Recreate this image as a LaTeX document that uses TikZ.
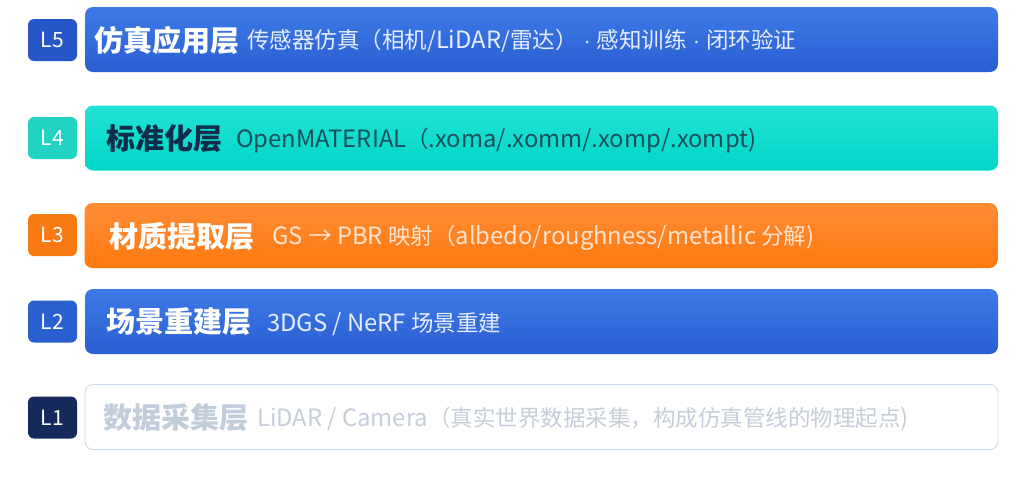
\documentclass[tikz,border=0pt]{standalone}
\usepackage{fontspec}
\setmainfont{Noto Sans CJK SC}
\newfontfamily\dotfont{Liberation Sans}
\definecolor{blueT}{HTML}{3E7AE6}
\definecolor{blueB}{HTML}{2A5ED2}
\definecolor{tealT}{HTML}{22E2D6}
\definecolor{tealB}{HTML}{00D6C6}
\definecolor{orT}{HTML}{FF8C36}
\definecolor{orB}{HTML}{FF790E}
\definecolor{bdg5}{HTML}{2756C9}
\definecolor{bdg4}{HTML}{22D3C3}
\definecolor{bdg3}{HTML}{F77B12}
\definecolor{bdg2}{HTML}{2A5FD0}
\definecolor{bdg1}{HTML}{15295A}
\definecolor{l1border}{HTML}{C9D9F2}
\definecolor{l1title}{HTML}{C2CDDC}
\definecolor{l1sub}{HTML}{C6CED9}
\definecolor{l4title}{HTML}{0F2C4A}
\definecolor{l4sub}{HTML}{1B4F5C}
\definecolor{blsub}{HTML}{E6EDFF}
\definecolor{orsub}{HTML}{FFE3CF}
\tikzset{
  bar/.style={rounded corners=8pt, minimum width=913pt, minimum height=65pt, inner sep=0pt},
  badge/.style={rounded corners=6pt, minimum width=49pt, minimum height=42pt, inner sep=0pt,
    text=white, font=\fontsize{21}{21}\selectfont},
  ttlnode/.style={anchor=west, inner sep=0pt, font=\fontsize{29}{29}\selectfont\bfseries},
  subnode/.style={anchor=west, inner sep=0pt, font=\fontsize{22.5}{23}\selectfont},
}
\newcommand{\lt}[1]{{\fontsize{23.8}{24}\selectfont #1}}
\newcommand{\md}{{\dotfont\fontsize{22}{22}\selectfont\hspace{6pt}·\hspace{6pt}}}
\begin{document}
\begin{tikzpicture}[x=1pt,y=-1pt]
\useasboundingbox[fill=white] (0,0) rectangle (1024,480);
% L5
\node[bar, top color=blueT, bottom color=blueB] (b5) at (541.5,39.5) {};
\node[badge, fill=bdg5] (g5) at (52.5,40) {L5};
\node[ttlnode, text=white] (t5) at (94,40) {仿真应用层};
\node[subnode, text=blsub] (s5) at (247,41) {传感器仿真（相机/\lt{LiDAR}/雷达）\md 感知训练\md 闭环验证};
% L4
\node[bar, top color=tealT, bottom color=tealB] (b4) at (541.5,138) {};
\node[badge, fill=bdg4] (g4) at (52.5,138) {L4};
\node[ttlnode, text=l4title] (t4) at (106,139) {标准化层};
\node[subnode, text=l4sub] (s4) at (236,140) {\lt{OpenMATERIAL}（\lt{.xoma/.xomm/.xomp/.xompt)}};
% L3
\node[bar, top color=orT, bottom color=orB] (b3) at (541,235.5) {};
\node[badge, fill=bdg3] (g3) at (52.5,235) {L3};
\node[ttlnode, text=white] (t3) at (109,236) {材质提取层};
\node[subnode, text=orsub] (s3) at (272,238) {\lt{GS → PBR} 映射（\lt{albedo/roughness/metallic} 分解\lt{)}};
% L2
\node[bar, top color=blueT, bottom color=blueB] (b2) at (541.5,321.5) {};
\node[badge, fill=bdg2] (g2) at (52.5,321.5) {L2};
\node[ttlnode, text=white] (t2) at (106,322) {场景重建层};
\node[subnode, text=blsub] (s2) at (267,324) {\lt{3DGS / NeRF} 场景重建};
% L1
\node[bar, fill=white, draw=l1border, line width=0.8pt] (b1) at (541.5,417) {};
\node[badge, fill=bdg1] (g1) at (52.5,417.5) {L1};
\node[ttlnode, text=l1title] (t1) at (103,418) {数据采集层};
\node[subnode, text=l1sub] (s1) at (257,419) {\lt{LiDAR / Camera}（真实世界数据采集，构成仿真管线的物理起点\lt{)}};
\end{tikzpicture}
\end{document}
